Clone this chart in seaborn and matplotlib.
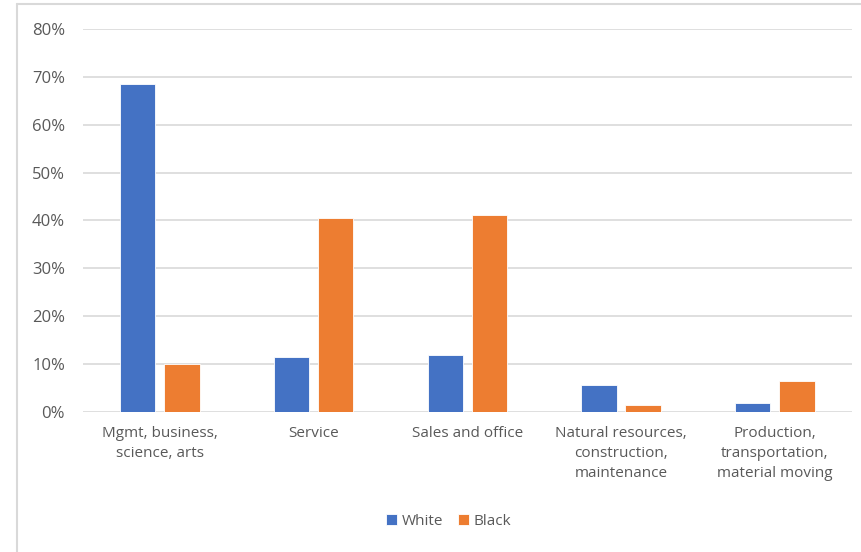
import numpy as np
import pandas as pd
import matplotlib
matplotlib.use("Agg")
import matplotlib.pyplot as plt
import seaborn as sns
from matplotlib.lines import Line2D
from matplotlib.ticker import PercentFormatter

CATEGORIES = [
    "Mgmt, business,\nscience, arts",
    "Service",
    "Sales and office",
    "Natural resources,\nconstruction,\nmaintenance",
    "Production,\ntransportation,\nmaterial moving",
]
WHITE = [68.6, 11.4, 12.0, 5.6, 1.9]
BLACK = [10.0, 40.6, 41.2, 1.5, 6.5]
SERIES = ["White", "Black"]
COLORS = ["#4472C4", "#ED7D31"]
TEXT = "#595959"
GRID = "#D9D9D9"

df = pd.DataFrame({
    "Category": CATEGORIES * 2,
    "Group": ["White"] * len(CATEGORIES) + ["Black"] * len(CATEGORIES),
    "Share": WHITE + BLACK,
})

sns.set_theme(style="white")
plt.rcParams["font.family"] = ["Open Sans", "DejaVu Sans"]

fig = plt.figure(figsize=(8.62, 5.52), dpi=100)
ax = fig.add_axes([0.0963, 0.2536, 0.8917, 0.6939])

sns.barplot(data=df, x="Category", y="Share", hue="Group", hue_order=SERIES,
            palette=COLORS, width=0.575, gap=0.2, ax=ax,
            edgecolor="white", linewidth=0.6, saturation=1)

ax.set_ylim(0, 80)
ax.set_yticks(np.arange(0, 81, 10))
ax.yaxis.set_major_formatter(PercentFormatter(decimals=0))
ax.set_xlim(-0.5, len(CATEGORIES) - 0.5)
ax.grid(axis="y", color=GRID, linewidth=1.2)
ax.set_axisbelow(True)
for s in ax.spines.values():
    s.set_visible(False)
ax.set_xlabel("")
ax.set_ylabel("")
ax.tick_params(axis="y", length=0, pad=13, labelsize=12, labelcolor=TEXT)
ax.tick_params(axis="x", length=0, pad=10, labelsize=11, labelcolor=TEXT)
for lbl in ax.get_xticklabels():
    lbl.set_linespacing(1.45)
    lbl.set_verticalalignment("top")

ax.legend(loc="center", bbox_to_anchor=(0.476, -0.285), ncol=2, frameon=False,
          fontsize=11, labelcolor=TEXT, handlelength=0.7, handleheight=0.7,
          columnspacing=1.0, handletextpad=0.3)

# chart border (left and top edges visible)
x0, y0 = 17 / 862, 1 - 4 / 552
fig.lines.append(Line2D([x0, x0], [0, y0], transform=fig.transFigure,
                        color=GRID, linewidth=1.5))
fig.lines.append(Line2D([x0, 1], [y0, y0], transform=fig.transFigure,
                        color=GRID, linewidth=1.5))

fig.savefig("out.png", dpi=100)
